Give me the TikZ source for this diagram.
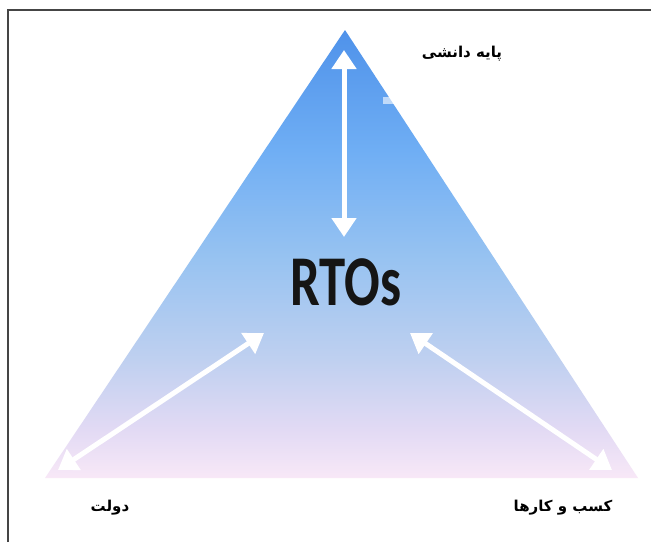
\documentclass[tikz,border=0pt]{standalone}
\usepackage{fontspec}
\usepackage{graphicx}
\usetikzlibrary{arrows.meta}
\TeXXeTstate=1
\newfontfamily\arabicfont[Script=Arabic]{DejaVu Sans}
\newfontfamily\labelsans{Carlito}

% colour ramp of the triangle, top to bottom
\definecolor{triA}{HTML}{4F92EA}
\definecolor{triB}{HTML}{6FAEF4}
\definecolor{triC}{HTML}{98C3F1}
\definecolor{triD}{HTML}{BFD0F0}
\definecolor{triE}{HTML}{E2DAF4}
\definecolor{triF}{HTML}{F8E8F7}
\definecolor{framegray}{HTML}{454545}
\definecolor{inkdark}{HTML}{151515}
\pgfdeclareverticalshading{trishade}{100bp}{%
  color(0bp)=(triF); color(25bp)=(triF); color(30.4bp)=(triE);
  color(38.2bp)=(triD); color(49.3bp)=(triC); color(61.6bp)=(triB);
  color(75bp)=(triA); color(100bp)=(triA)}

\tikzset{
  whitearrow/.style={draw=white, line width=5pt,
    {Triangle[length=19pt,width=24pt]}-{Triangle[length=19pt,width=24pt]}},
  fatext/.style={font=\arabicfont\bfseries\fontsize{15}{17}\selectfont, inner sep=0pt},
}

\begin{document}
\begin{tikzpicture}[x=1pt,y=-1pt]
  \useasboundingbox (0,0) rectangle (651,542);
  \fill[white] (0,0) rectangle (651,542);

  % shaded triangle
  \shade[shading=trishade] (345,30) -- (638,478) -- (45,478) -- cycle;
  % faint white patch beneath the top label
  \fill[white, opacity=0.6] (383,97) rectangle (470,104);

  % frame (top and left only)
  \draw[framegray, line width=2pt] (7.5,542) -- (7.5,9.5) -- (651,9.5);

  % centre label and the three corner labels
  \node[inner sep=0pt, text=inkdark] (rto) at (346,282)
    {\scalebox{0.88}[1.19]{\labelsans\bfseries\fontsize{60}{60}\selectfont RTOs}};
  \node[fatext] (kb) at (462,54) {\beginR پایه دانشی\endR};
  \node[fatext] (gov) at (110,508) {\beginR دولت\endR};
  \node[fatext] (bus) at (563,508) {\beginR کسب و کارها\endR};

  % end points of the arrows
  \coordinate (topEnd) at (344,50);
  \coordinate (topIn) at (344,237);
  \coordinate (leftEnd) at (58,470);
  \coordinate (leftIn) at (264,333);
  \coordinate (rightEnd) at (612,470);
  \coordinate (rightIn) at (410,333);

  \draw[whitearrow] (topEnd) -- (topIn);
  \draw[whitearrow] (leftEnd) -- (leftIn);
  \draw[whitearrow] (rightEnd) -- (rightIn);
\end{tikzpicture}
\end{document}
